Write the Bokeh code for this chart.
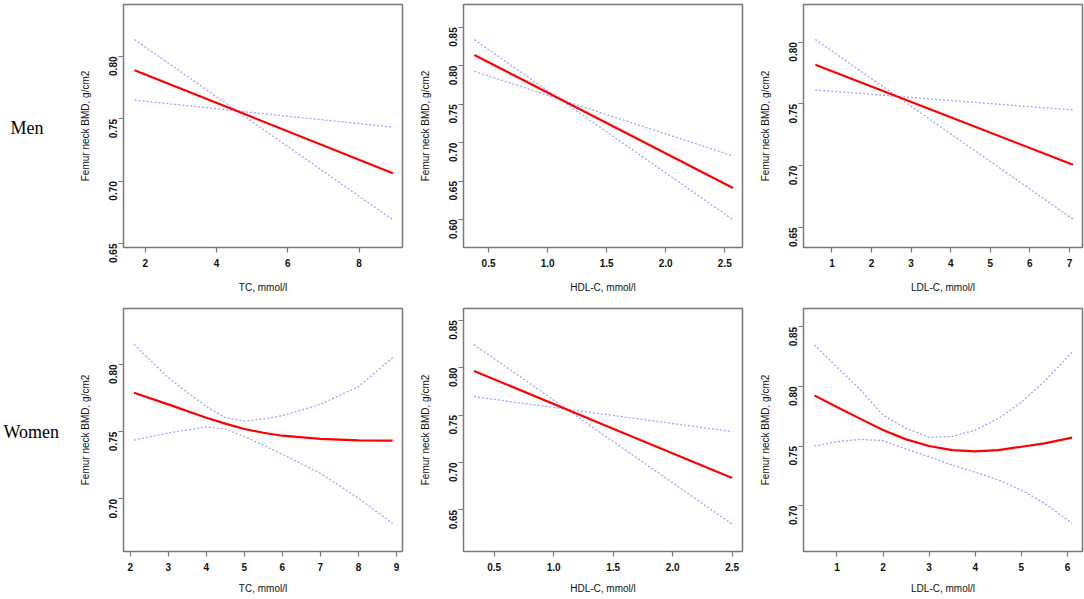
import math
from bokeh.plotting import figure
from bokeh.layouts import row, column
from bokeh.models import Range1d, FixedTicker
from bokeh.core.properties import value
from bokeh.embed import file_html
from bokeh.resources import INLINE

# ---------------- data ----------------
# Men, TC
men_tc_x = [1.7, 5.0, 8.95]
men_tc_fit = [0.789, 0.7514, 0.7064]
men_tc_ci1 = [0.8136, 0.7478, 0.669]
men_tc_ci2 = [0.765, 0.7551, 0.7433]
# Men, HDL-C
men_hdl_x = [0.38, 1.5, 2.57]
men_hdl_fit = [0.814, 0.7255, 0.6409]
men_hdl_ci1 = [0.8339, 0.714, 0.5996]
men_hdl_ci2 = [0.7926, 0.7364, 0.6827]
# Men, LDL-C
men_ldl_x = [0.58, 4.0, 7.09]
men_ldl_fit = [0.7817, 0.7392, 0.7008]
men_ldl_ci1 = [0.8022, 0.7258, 0.6568]
men_ldl_ci2 = [0.7613, 0.7528, 0.7451]
# Women, TC
wom_tc_x = [2.1, 3.0, 4.0, 4.5, 5.0, 5.5, 6.0, 7.0, 8.0, 8.9]
wom_tc_fit = [0.779, 0.7703, 0.7604, 0.756, 0.752, 0.7492, 0.747, 0.7446, 0.7436, 0.7433]
wom_tc_hi = [0.8149, 0.7901, 0.7686, 0.7604, 0.7579, 0.7594, 0.7619, 0.7703, 0.7835, 0.805]
wom_tc_lo = [0.7438, 0.749, 0.7535, 0.752, 0.7463, 0.740, 0.7332, 0.7191, 0.7005, 0.6817]
# Women, HDL-C
wom_hdl_x = [0.33, 1.5, 2.5]
wom_hdl_fit = [0.7965, 0.7356, 0.6835]
wom_hdl_ci1 = [0.8242, 0.7221, 0.6349]
wom_hdl_ci2 = [0.7693, 0.7495, 0.7325]
# Women, LDL-C
wom_ldl_x = [0.51, 1.0, 1.5, 2.0, 2.5, 3.0, 3.5, 4.0, 4.5, 5.0, 5.5, 6.1]
wom_ldl_fit = [0.7925, 0.7827, 0.773, 0.7634, 0.7556, 0.750, 0.7466, 0.7455, 0.7466, 0.7494, 0.7522, 0.757]
wom_ldl_hi = [0.8349, 0.8162, 0.7975, 0.776, 0.7648, 0.7573, 0.758, 0.7634, 0.773, 0.7869, 0.8042, 0.8288]
wom_ldl_lo = [0.750, 0.7536, 0.7556, 0.7545, 0.7475, 0.741, 0.734, 0.728, 0.7215, 0.7131, 0.702, 0.6852]

# tick values / labels
tc_men_xticks = [2, 4, 6, 8]
tc_men_xlabels = ["2", "4", "6", "8"]
tc_wom_xticks = [2, 3, 4, 5, 6, 7, 8, 9]
tc_wom_xlabels = ["2", "3", "4", "5", "6", "7", "8", "9"]
hdl_xticks = [0.5, 1.0, 1.5, 2.0, 2.5]
hdl_xlabels = ["0.5", "1.0", "1.5", "2.0", "2.5"]
ldl_men_xticks = [1, 2, 3, 4, 5, 6, 7]
ldl_men_xlabels = ["1", "2", "3", "4", "5", "6", "7"]
ldl_wom_xticks = [1, 2, 3, 4, 5, 6]
ldl_wom_xlabels = ["1", "2", "3", "4", "5", "6"]

y1_ticks = [0.65, 0.70, 0.75, 0.80]
y1_labels = ["0.65", "0.70", "0.75", "0.80"]
y2_ticks = [0.60, 0.65, 0.70, 0.75, 0.80, 0.85]
y2_labels = ["0.60", "0.65", "0.70", "0.75", "0.80", "0.85"]
y4_ticks = [0.70, 0.75, 0.80]
y4_labels = ["0.70", "0.75", "0.80"]
y5_ticks = [0.65, 0.70, 0.75, 0.80, 0.85]
y5_labels = ["0.65", "0.70", "0.75", "0.80", "0.85"]
y6_ticks = [0.70, 0.75, 0.80, 0.85]
y6_labels = ["0.70", "0.75", "0.80", "0.85"]

y_title = "Femur neck BMD, g/cm2"
row_labels = ["Men", "Women"]

FONT = "Liberation Sans"
FRAME_W = 279
FRAME_H = 243
LABEL_W = 70


def panel(x, fit, ca, cb, xr, yr, xt, xl, yt, yl, xtitle, bl, br, bt, bb, xstand):
    p = figure(width=bl + FRAME_W + br, height=bt + FRAME_H + bb,
               x_range=Range1d(*xr), y_range=Range1d(*yr),
               output_backend="svg", toolbar_location=None,
               min_border_left=bl, min_border_right=br,
               min_border_top=bt, min_border_bottom=bb)
    p.grid.visible = False
    p.outline_line_color = "#7a7a7a"
    p.outline_line_width = 1.5
    p.background_fill_color = "white"
    p.border_fill_color = "white"

    p.line(x, ca, line_color="#a3a3ff", line_width=1.3, line_dash="2 2")
    p.line(x, cb, line_color="#a3a3ff", line_width=1.3, line_dash="2 2")
    p.line(x, fit, line_color="#ff0000", line_width=2.2)

    p.xaxis.ticker = FixedTicker(ticks=xt)
    p.xaxis.major_label_overrides = {t: s for t, s in zip(xt, xl)}
    p.yaxis.ticker = FixedTicker(ticks=yt)
    p.yaxis.major_label_overrides = {t: s for t, s in zip(yt, yl)}
    p.yaxis.major_label_orientation = math.pi / 2

    for ax in (p.xaxis, p.yaxis):
        ax.axis_line_color = None
        ax.major_tick_line_color = "#7a7a7a"
        ax.major_tick_line_width = 1.2
        ax.major_tick_out = 5
        ax.major_tick_in = 0
        ax.minor_tick_line_color = None
        ax.major_label_text_font = FONT
        ax.major_label_text_font_size = "10px"
        ax.major_label_text_font_style = "bold"
        ax.major_label_text_color = "#111111"
        ax.axis_label_text_font = FONT
        ax.axis_label_text_font_size = "10px"
        ax.axis_label_text_font_style = "normal"
        ax.axis_label_text_color = "#111111"
    p.xaxis.major_label_standoff = 6
    p.xaxis.axis_label_standoff = xstand
    p.yaxis.major_label_standoff = 5
    p.yaxis.axis_label_standoff = 12
    p.xaxis.axis_label = xtitle
    p.yaxis.axis_label = y_title
    return p


def label_fig(txt, h, tx, ty):
    f = figure(width=LABEL_W, height=h, x_range=Range1d(0, LABEL_W), y_range=Range1d(0, h),
               output_backend="svg", toolbar_location=None,
               x_axis_location=None, y_axis_location=None,
               min_border_left=0, min_border_right=0, min_border_top=0, min_border_bottom=0)
    f.grid.visible = False
    f.outline_line_color = None
    f.text(x=[tx], y=[ty], text=[txt], text_font=value("Liberation Serif"),
           text_font_size="18px", text_color="#000000",
           text_align="left", text_baseline="middle")
    return f


TOP1, BOT1 = 4, 53
TOP2, BOT2 = 8, 48
H1 = TOP1 + FRAME_H + BOT1
H2 = TOP2 + FRAME_H + BOT2

# row 1 (Men)
p1 = panel(men_tc_x, men_tc_fit, men_tc_ci1, men_tc_ci2, (1.39, 9.22), (0.6468, 0.8417),
           tc_men_xticks, tc_men_xlabels, y1_ticks, y1_labels, "TC, mmol/l", 123 - LABEL_W, 14, TOP1, BOT1, 12)
p2 = panel(men_hdl_x, men_hdl_fit, men_hdl_ci1, men_hdl_ci2, (0.288, 2.65), (0.5635, 0.8796),
           hdl_xticks, hdl_xlabels, y2_ticks, y2_labels, "HDL-C, mmol/l", 47, 14, TOP1, BOT1, 12)
p3 = panel(men_ldl_x, men_ldl_fit, men_ldl_ci1, men_ldl_ci2, (0.281, 7.33), (0.6338, 0.8305),
           ldl_men_xticks, ldl_men_xlabels, y1_ticks, y1_labels, "LDL-C, mmol/l", 47, 2, TOP1, BOT1, 12)
# row 2 (Women)
p4 = panel(wom_tc_x, wom_tc_fit, wom_tc_hi, wom_tc_lo, (1.824, 9.158), (0.6609, 0.8416),
           tc_wom_xticks, tc_wom_xlabels, y4_ticks, y4_labels, "TC, mmol/l", 123 - LABEL_W, 14, TOP2, BOT2, 9)
p5 = panel(wom_hdl_x, wom_hdl_fit, wom_hdl_ci1, wom_hdl_ci2, (0.2416, 2.587), (0.6061, 0.8623),
           hdl_xticks, hdl_xlabels, y5_ticks, y5_labels, "HDL-C, mmol/l", 47, 14, TOP2, BOT2, 9)
p6 = panel(wom_ldl_x, wom_ldl_fit, wom_ldl_hi, wom_ldl_lo, (0.275, 6.326), (0.6615, 0.8654),
           ldl_wom_xticks, ldl_wom_xlabels, y6_ticks, y6_labels, "LDL-C, mmol/l", 47, 2, TOP2, BOT2, 9)

l1 = label_fig(row_labels[0], H1, 10, H1 - 153)
l2 = label_fig(row_labels[1], H2, 3, H2 - (433 - H1) - 19)

layout = column(row(l1, p1, p2, p3), row(l2, p4, p5, p6))
open("out.html", "w").write(file_html(layout, INLINE))
